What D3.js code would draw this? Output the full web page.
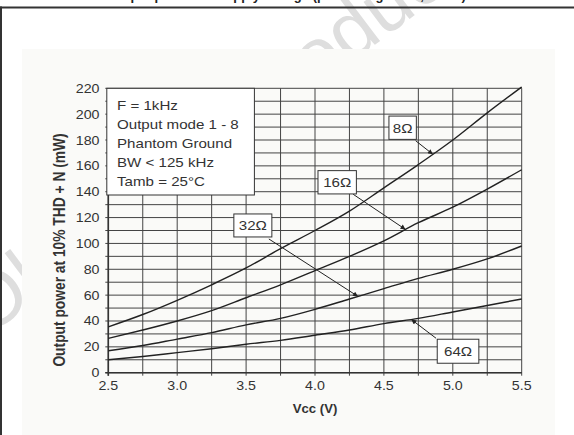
<!DOCTYPE html>
<html><head><meta charset="utf-8">
<script src="https://cdn.jsdelivr.net/npm/d3@7"></script>
<style>
body{margin:0;background:#fff}
svg{display:block;font-family:"Liberation Sans",Arial,Helvetica,sans-serif}
</style></head><body>
<svg id="c" width="574" height="435"></svg>
<script>
// ---- data ----
const vcc = [2.5, 2.75, 3.0, 3.25, 3.5, 3.75, 4.0, 4.25, 4.5, 4.75, 5.0, 5.25, 5.5];
const p8  = [35.5, 45, 56, 68, 81, 96, 110, 125, 143, 161, 180, 201, 221];
const p16 = [26.5, 33, 40, 48, 58, 68, 79, 90, 102, 116, 128, 142, 157];
const p32 = [17, 21, 26, 31, 37, 42, 49, 57, 65, 73, 80, 88, 98];
const p64 = [10, 12.5, 15.5, 18.5, 22, 25, 29, 33, 38, 42, 47, 52, 57];
const seriesNames = ["8Ω", "16Ω", "32Ω", "64Ω"];
const xTickLabels = ["2.5", "3.0", "3.5", "4.0", "4.5", "5.0", "5.5"];
const yTickLabels = [0, 20, 40, 60, 80, 100, 120, 140, 160, 180, 200, 220];
const legendLines = ["F = 1kHz", "Output mode 1 - 8", "Phantom Ground", "BW < 125 kHz", "Tamb = 25°C"];
const xTitle = "Vcc (V)";
const yTitle = "Output power at 10% THD + N (mW)";
const topTitle = "Output power vs. supply voltage (phantom ground, 1 kHz)";
const watermark = "Obsolete Product(s) - Obsolete Product(s)";

const series = [p8, p16, p32, p64];

// ---- layout ----
const svg = d3.select("#c");
const x = d3.scaleLinear().domain([2.5, 5.5]).range([108.3, 521.7]);
const y = d3.scaleLinear().domain([0, 220]).range([372.7, 88.3]);
const ink = "#333";

// watermark (behind panel)
svg.append("text").attr("transform", "translate(-14,338) rotate(-37)")
  .attr("font-size", 78).attr("fill", "#dedede").text(watermark);

// page frame
svg.append("text").attr("x", 287).attr("y", -0.5).attr("text-anchor", "middle")
  .attr("font-size", 13).attr("font-weight", "bold").attr("fill", "#222").text(topTitle);
svg.append("rect").attr("x", 0).attr("y", 6.5).attr("width", 574).attr("height", 2).attr("fill", "#333");
svg.append("rect").attr("x", 0).attr("y", 6.5).attr("width", 2).attr("height", 430).attr("fill", "#333");

// panel
svg.append("rect").attr("x", 22).attr("y", 49).attr("width", 533).attr("height", 390).attr("fill", "#fafaf8");

// grid
const xGrid = d3.range(2.5, 5.5001, 0.25);
const yGrid = d3.range(0, 220.001, 10);
const g = svg.append("g");
g.selectAll(".vg").data(xGrid).join("line")
  .attr("x1", d => x(d)).attr("x2", d => x(d)).attr("y1", y(0) + 3).attr("y2", y(220))
  .attr("stroke", "#444").attr("stroke-width", 1);
g.selectAll(".hg").data(yGrid).join("line")
  .attr("x1", x(2.5) - 3).attr("x2", x(5.5)).attr("y1", d => y(d)).attr("y2", d => y(d))
  .attr("stroke", "#444").attr("stroke-width", 1);
// axes lines
g.append("line").attr("x1", x(2.5)).attr("x2", x(2.5)).attr("y1", y(0) + 3).attr("y2", y(220)).attr("stroke", ink).attr("stroke-width", 1.6);
g.append("line").attr("x1", x(2.5) - 3).attr("x2", x(5.5)).attr("y1", y(0)).attr("y2", y(0)).attr("stroke", ink).attr("stroke-width", 1.6);

// curves
const line = d3.line().x((d, i) => x(vcc[i])).y(d => y(d)).curve(d3.curveMonotoneX);
svg.selectAll(".curve").data(series).join("path")
  .attr("d", d => line(d)).attr("fill", "none").attr("stroke", "#222").attr("stroke-width", 1.4);

// tick labels
svg.selectAll(".xt").data(xTickLabels).join("text")
  .attr("transform", d => `translate(${x(+d)},390) scale(1.14,1)`)
  .attr("text-anchor", "middle").attr("font-size", 12.5).attr("fill", ink).text(d => d);
svg.selectAll(".yt").data(yTickLabels).join("text")
  .attr("transform", d => `translate(99.5,${y(d) + 4.5}) scale(1.14,1)`)
  .attr("text-anchor", "end").attr("font-size", 12.5).attr("fill", ink).text(d => d);

// axis titles
svg.append("text").attr("transform", `translate(${x(4)},413) scale(1.1,1)`)
  .attr("text-anchor", "middle").attr("font-size", 12).attr("font-weight", "bold").attr("fill", ink).text(xTitle);
svg.append("text").attr("transform", "translate(64.5,250) scale(1.18,1) rotate(-90)")
  .attr("text-anchor", "middle").attr("font-size", 13.8).attr("font-weight", "bold").attr("fill", ink).text(yTitle);

// legend box
const lg = svg.append("g");
lg.append("rect").attr("x", x(2.5) - 1.5).attr("y", y(220)).attr("width", 147.6).attr("height", 106.7)
  .attr("fill", "#fff").attr("stroke", ink).attr("stroke-width", 1);
lg.selectAll("text").data(legendLines).join("text")
  .attr("transform", (d, i) => `translate(117,${109.5 + i * 19.1}) scale(1.2,1)`)
  .attr("font-size", 12.6).attr("fill", ink).text(d => d);

// series labels with arrows (box centre in data units, size px, arrow start offset, target Vcc)
const ann = [
  {cv: 4.636, cp: 189.5, w: 27.4, h: 23.3, sx: 13, sy: 13, tv: 4.855},
  {cv: 4.161, cp: 147.3, w: 38.4, h: 23.3, sx: 16, sy: 12, tv: 4.657},
  {cv: 3.549, cp: 113.9, w: 38.0, h: 23.0, sx: 16, sy: 13.5, tv: 4.312},
  {cv: 5.038, cp: 16.6,  w: 41.6, h: 24.0, sx: -22, sy: -13, tv: 4.699}
];
function valueAt(arr, v) {
  return d3.scaleLinear().domain(vcc).range(arr)(v);
}
const defs = svg.append("defs");
defs.append("marker").attr("id", "ah").attr("viewBox", "0 0 10 10").attr("refX", 10).attr("refY", 5)
  .attr("markerWidth", 7).attr("markerHeight", 5).attr("markerUnits", "userSpaceOnUse").attr("orient", "auto")
  .append("path").attr("d", "M0,0L10,5L0,10z").attr("fill", "#222");
ann.forEach((a, i) => {
  const cx = x(a.cv), cy = y(a.cp);
  const tx = x(a.tv), ty = y(valueAt(series[i], a.tv));
  svg.append("line").attr("x1", cx + a.sx).attr("y1", cy + a.sy).attr("x2", tx).attr("y2", ty)
    .attr("stroke", "#222").attr("stroke-width", 1).attr("marker-end", "url(#ah)");
  svg.append("rect").attr("x", cx - a.w / 2).attr("y", cy - a.h / 2).attr("width", a.w).attr("height", a.h)
    .attr("fill", "#fff").attr("stroke", ink).attr("stroke-width", 1);
  svg.append("text").attr("transform", `translate(${cx},${cy + 5}) scale(1.12,1)`)
    .attr("text-anchor", "middle").attr("font-size", 13.5).attr("fill", ink).text(seriesNames[i]);
});
</script>
</body></html>
